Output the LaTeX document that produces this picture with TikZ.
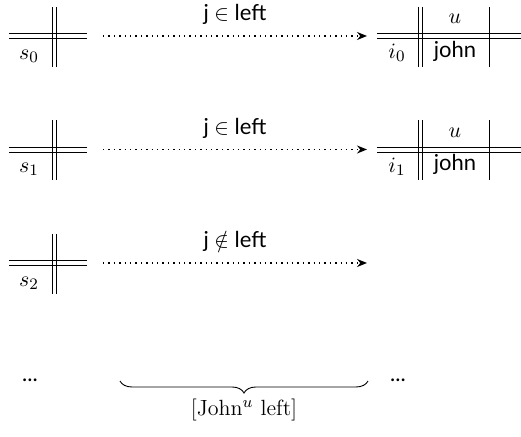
\documentclass[tikz,border=0pt]{standalone}
\usepackage{amsmath}
\usepackage{fontspec}
\setsansfont{Lato}
\usetikzlibrary{arrows.meta, decorations.pathreplacing}
\tikzset{
    bar/.style={line width=0.45pt},
    arrow/.style={dotted, line width=0.7pt, -{Stealth[length=5pt, width=4pt]}},
    lbl/.style={font=\sffamily\fontsize{11}{13}\selectfont},
    brace/.style={decorate, decoration={brace, mirror, amplitude=6pt}, line width=0.45pt}
}

\begin{document}
\begin{tikzpicture}[x=0.5pt, y=-0.5pt, font=\fontsize{11}{13}\selectfont]
    \useasboundingbox (0,0) rectangle (521,437);
    % States with their transitions
    \foreach \k/\y/\rel in {0/36/\in, 1/149.5/\in, 2/263/\notin} {
        \draw [bar] (9,\y-2.5) -- (87,\y-2.5) (9,\y+2.5) -- (87,\y+2.5);
        \draw [bar] (52,\y-29) -- (52,\y+31) (56,\y-29) -- (56,\y+31);
        \node (s\k) at (29,\y+20) {$s_\k$};
        \coordinate (from\k) at (103,\y);
        \coordinate (to\k) at (367,\y);
        \draw [arrow] (from\k) -- node[midway, above=2pt, lbl] {j $\rel$ left} (to\k);
    }
    % Result tables
    \foreach \k/\y in {0/36, 1/149.5} {
        \draw [bar] (377,\y-2.5) -- (521,\y-2.5) (377,\y+2.5) -- (521,\y+2.5);
        \draw [bar] (418,\y-29) -- (418,\y+31) (422,\y-29) -- (422,\y+31);
        \draw [bar] (489,\y-29) -- (489,\y+31);
        \node (i\k) at (397,\y+17) {$i_\k$};
        \node (u\k) at (455,\y-17) {$u$};
        \node (john\k) [lbl] at (455,\y+15) {john};
    }
    % Bottom row
    \node (dotsL) [lbl] at (30,380) {...};
    \node (dotsR) [lbl] at (398,380) {...};
    \coordinate (bl) at (120,381);
    \coordinate (br) at (368,381);
    \draw [brace] (bl) -- (br);
    \node (sem) at (244,410) {[John$^u$ left]};
\end{tikzpicture}
\end{document}
